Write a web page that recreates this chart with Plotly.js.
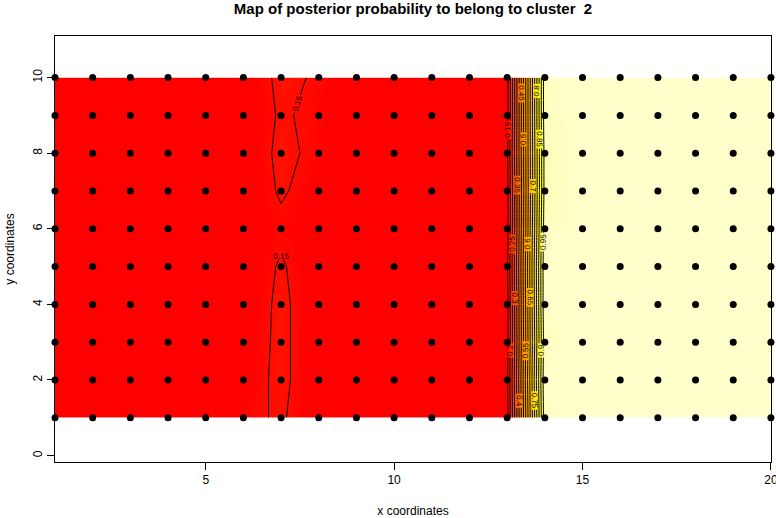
<!DOCTYPE html>
<html>
<head>
<meta charset="utf-8">
<script src="https://cdn.plot.ly/plotly-3.0.1.min.js"></script>
<style>html,body{margin:0;padding:0;background:#fff;}#chart{width:776px;height:518px;}</style>
</head>
<body>
<div id="chart"></div>
<script>
// grid coordinates
const xCoords = [1,2,3,4,5,6,7,8,9,10,11,12,13,14,15,16,17,18,19,20];
const yCoords = [1,2,3,4,5,6,7,8,9,10];

// posterior probability to belong to cluster 2, one row per y coordinate (x = 1..20)
const probY1  = [0.12,0.12,0.12,0.12,0.12,0.14,0.155,0.12,0.12,0.12,0.12,0.12,0.13,0.98,0.99,0.99,0.99,0.99,0.99,0.99];
const probY2  = [0.12,0.12,0.12,0.12,0.12,0.13,0.16,0.12,0.12,0.12,0.12,0.12,0.14,0.99,0.99,0.99,0.99,0.99,0.99,0.99];
const probY3  = [0.12,0.12,0.12,0.12,0.12,0.125,0.16,0.12,0.12,0.12,0.12,0.12,0.13,0.98,0.99,0.99,0.99,0.99,0.99,0.99];
const probY4  = [0.12,0.12,0.12,0.12,0.12,0.12,0.16,0.12,0.12,0.12,0.12,0.12,0.13,0.99,0.99,0.99,0.99,0.99,0.99,0.99];
const probY5  = [0.12,0.12,0.12,0.12,0.12,0.12,0.155,0.12,0.12,0.12,0.12,0.12,0.14,0.99,0.99,0.99,0.99,0.99,0.99,0.99];
const probY6  = [0.12,0.12,0.12,0.12,0.12,0.12,0.14,0.125,0.12,0.12,0.12,0.12,0.13,0.98,0.99,0.99,0.99,0.99,0.99,0.99];
const probY7  = [0.12,0.12,0.12,0.12,0.12,0.12,0.155,0.13,0.12,0.12,0.12,0.12,0.13,0.97,0.99,0.99,0.99,0.99,0.99,0.99];
const probY8  = [0.12,0.12,0.12,0.12,0.12,0.12,0.16,0.14,0.12,0.12,0.12,0.12,0.14,0.97,0.99,0.99,0.99,0.99,0.99,0.99];
const probY9  = [0.12,0.12,0.12,0.12,0.12,0.12,0.155,0.14,0.12,0.12,0.12,0.12,0.13,0.98,0.99,0.99,0.99,0.99,0.99,0.99];
const probY10 = [0.12,0.12,0.12,0.12,0.12,0.12,0.16,0.145,0.12,0.12,0.12,0.12,0.13,0.98,0.99,0.99,0.99,0.99,0.99,0.99];

const xTicks = [5,10,15,20];
const yTicks = [0,2,4,6,8,10];

const probGrid = [probY1,probY2,probY3,probY4,probY5,probY6,probY7,probY8,probY9,probY10];

const heatScale = [
  [0,'#FF0000'],[0.135,'#FF0000'],[0.2,'#FF3000'],[0.35,'#FF6000'],
  [0.5,'#FF9000'],[0.65,'#FFC000'],[0.78,'#FFE800'],[0.86,'#FFFF20'],
  [0.93,'#FFFF90'],[1,'#FFFFD5']
];

const ptsX = [], ptsY = [];
yCoords.forEach(function(yv){ xCoords.forEach(function(xv){ ptsX.push(xv); ptsY.push(yv); }); });

const font = 'Liberation Sans, Arial, Helvetica, sans-serif';

const data = [
  {
    type: 'contour',
    x: xCoords, y: yCoords, z: probGrid,
    zmin: 0, zmax: 1,
    colorscale: heatScale,
    showscale: false,
    contours: {
      coloring: 'heatmap',
      start: 0.15, end: 0.95, size: 0.05,
      showlabels: true,
      labelfont: {family: font, size: 8, color: '#000'}
    },
    line: {color: '#000', width: 1, smoothing: 0},
    hoverinfo: 'skip'
  },
  {
    type: 'scatter', mode: 'markers',
    x: ptsX, y: ptsY,
    marker: {color: '#000', size: 7},
    cliponaxis: false,
    hoverinfo: 'skip'
  }
];

const axisCommon = {
  showline: true, mirror: true, linecolor: '#000', linewidth: 1,
  ticks: 'outside', ticklen: 7, tickcolor: '#000', tickwidth: 1,
  showgrid: false, zeroline: false,
  ticklabeloverflow: 'allow',
  tickfont: {family: font, size: 12, color: '#000'}
};

const layout = {
  width: 776, height: 518,
  margin: {l: 55, r: 5, t: 36, b: 56},
  paper_bgcolor: '#fff', plot_bgcolor: '#fff',
  showlegend: false,
  font: {family: font, color: '#000'},
  title: {
    text: '<b>Map of posterior probability to belong to cluster\u00a0 2</b>',
    font: {family: font, size: 15, color: '#000'},
    xref: 'paper', x: 0.5, xanchor: 'center',
    yref: 'container', y: 0.983, yanchor: 'middle'
  },
  xaxis: Object.assign({}, axisCommon, {
    range: [1, 20.002], tickvals: xTicks,
    title: {text: 'x coordinates', font: {family: font, size: 12, color: '#000'}, standoff: 22}
  }),
  yaxis: Object.assign({}, axisCommon, {
    range: [-0.17, 11.1], tickvals: yTicks, tickangle: -90,
    title: {text: 'y coordinates', font: {family: font, size: 12, color: '#000'}, standoff: 14}
  })
};

Plotly.newPlot('chart', data, layout, {displayModeBar: false, staticPlot: true});
</script>
</body>
</html>
